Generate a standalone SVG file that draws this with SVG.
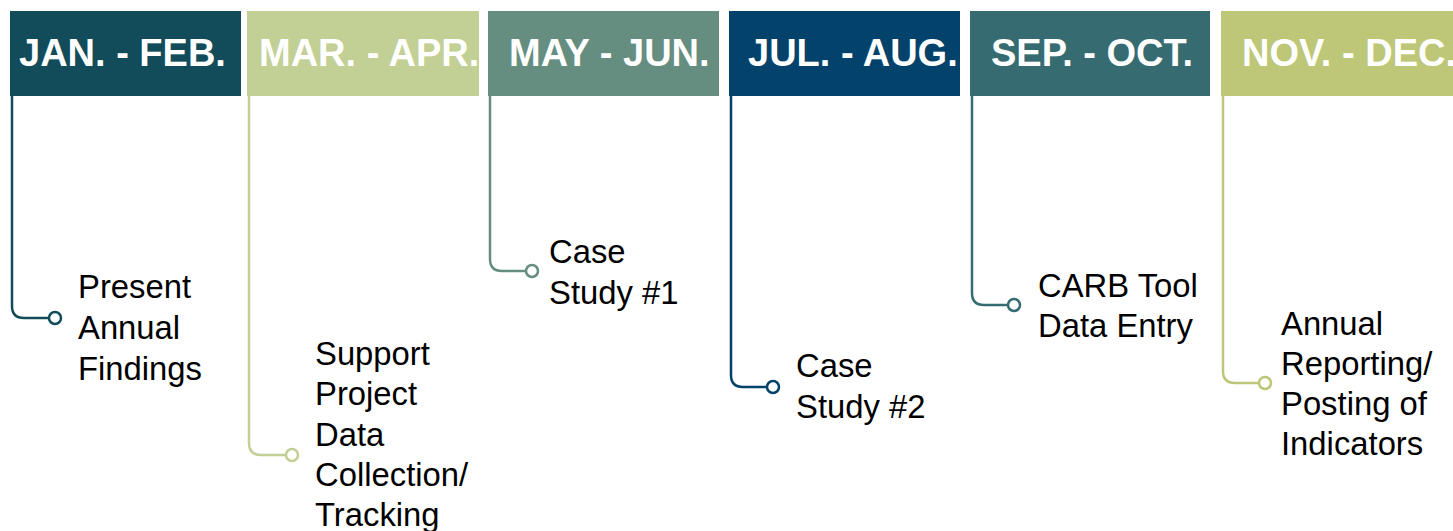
<svg xmlns="http://www.w3.org/2000/svg" width="1453" height="531" viewBox="0 0 1453 531">
<style>
.hd{font-family:"Liberation Sans",Arial,sans-serif;font-weight:bold;font-size:38px;fill:#ffffff}
.tx{font-family:"Liberation Sans",Arial,sans-serif;font-size:32.8px;fill:#000000}
.ln{fill:none;stroke-width:2.5}
.dot{fill:#ffffff;stroke-width:2.5}
</style>
<rect width="1453" height="531" fill="#ffffff"/>
<g id="connectors">
<path class="ln" stroke="#124b59" d="M12 96 V306 Q12 318 24 318 H49"/>
<path class="ln" stroke="#c2cf95" d="M249 96 V443 Q249 455 261 455 H286"/>
<path class="ln" stroke="#658d80" d="M490 96 V259 Q490 271 502 271 H526"/>
<path class="ln" stroke="#03426a" d="M731 96 V375 Q731 387 743 387 H767"/>
<path class="ln" stroke="#366b71" d="M972 96 V293 Q972 305 984 305 H1008"/>
<path class="ln" stroke="#bdc777" d="M1223 96 V371 Q1223 383 1235 383 H1259"/>
</g>
<g id="n1">
<rect x="10" y="11" width="231" height="85" fill="#124b59"/>
<text class="hd" x="19" y="66">JAN. - FEB.</text>
<circle class="dot" cx="55" cy="318" r="6" stroke="#124b59"/>
<text class="tx" x="78" y="298">Present</text>
<text class="tx" x="78" y="339">Annual</text>
<text class="tx" x="78" y="380">Findings</text>
</g>
<g id="n2">
<rect x="247" y="11" width="232" height="85" fill="#c2cf95"/>
<text class="hd" x="259" y="66">MAR. - APR.</text>
<circle class="dot" cx="292" cy="455" r="6" stroke="#c2cf95"/>
<text class="tx" x="315" y="365">Support</text>
<text class="tx" x="315" y="405">Project</text>
<text class="tx" x="315" y="446">Data</text>
<text class="tx" x="315" y="486">Collection/</text>
<text class="tx" x="315" y="526">Tracking</text>
</g>
<g id="n3">
<rect x="488" y="11" width="231" height="85" fill="#658d80"/>
<text class="hd" x="509" y="66">MAY - JUN.</text>
<circle class="dot" cx="532" cy="271" r="6" stroke="#658d80"/>
<text class="tx" x="549" y="263">Case</text>
<text class="tx" x="549" y="304">Study #1</text>
</g>
<g id="n4">
<rect x="729" y="11" width="231" height="85" fill="#03426a"/>
<text class="hd" x="748" y="66">JUL. - AUG.</text>
<circle class="dot" cx="773" cy="387" r="6" stroke="#03426a"/>
<text class="tx" x="796" y="377">Case</text>
<text class="tx" x="796" y="418">Study #2</text>
</g>
<g id="n5">
<rect x="970" y="11" width="240" height="85" fill="#366b71"/>
<text class="hd" x="991" y="66">SEP. - OCT.</text>
<circle class="dot" cx="1014" cy="305" r="6" stroke="#366b71"/>
<text class="tx" x="1038" y="297">CARB Tool</text>
<text class="tx" x="1038" y="337">Data Entry</text>
</g>
<g id="n6">
<rect x="1221" y="11" width="232" height="85" fill="#bdc777"/>
<text class="hd" x="1242" y="66">NOV. - DEC.</text>
<circle class="dot" cx="1265" cy="383" r="6" stroke="#bdc777"/>
<text class="tx" x="1281" y="335">Annual</text>
<text class="tx" x="1281" y="375">Reporting/</text>
<text class="tx" x="1281" y="415">Posting of</text>
<text class="tx" x="1281" y="455">Indicators</text>
</g>
</svg>
